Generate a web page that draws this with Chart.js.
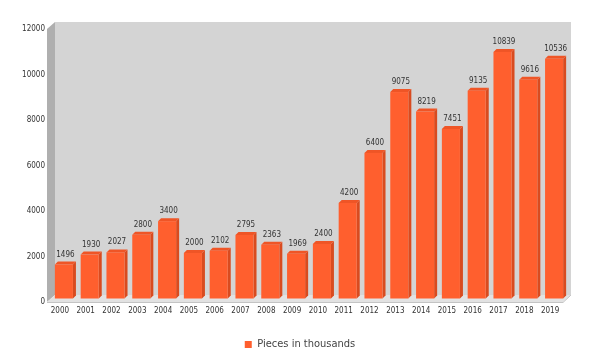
<!DOCTYPE html>
<html>
<head>
<meta charset="utf-8">
<script src="https://cdn.jsdelivr.net/npm/chart.js@4"></script>
<style>
html,body{margin:0;padding:0;background:#fff;}
#wrap{width:600px;height:358px;}
</style>
</head>
<body>
<div id="wrap"><canvas id="c" width="600" height="358"></canvas></div>
<script>
const categories = ['2000','2001','2002','2003','2004','2005','2006','2007','2008','2009','2010','2011','2012','2013','2014','2015','2016','2017','2018','2019'];
const pieces = [1496,1930,2027,2800,3400,2000,2102,2795,2363,1969,2400,4200,6400,9075,8219,7451,9135,10839,9616,10536];
const seriesName = 'Pieces in thousands';
const yMax = 12000;
const yStep = 2000;

const DX = 8, DY = -7;      // wall depth
const BX = 4, BY = -3.5;    // bar placement in depth
const SX = 3, SY = -3;      // bar depth

const threeD = {
  id: 'threeD',
  afterLayout(chart) {
    const lg = chart.legend;
    if (lg) {
      lg.left = 0; lg.right = chart.width; lg.width = chart.width;
      lg.top += 2; lg.bottom += 2;
    }
  },
  beforeDraw(chart) {
    const ctx = chart.ctx, a = chart.chartArea;
    ctx.save();
    ctx.fillStyle = '#d4d4d4';
    ctx.fillRect(a.left + DX, a.top + DY, a.right - a.left, a.bottom - a.top);
    ctx.fillStyle = '#afafaf';
    ctx.beginPath();
    ctx.moveTo(a.left, a.top);
    ctx.lineTo(a.left + DX, a.top + DY);
    ctx.lineTo(a.left + DX, a.bottom + DY);
    ctx.lineTo(a.left, a.bottom);
    ctx.closePath();
    ctx.fill();
    ctx.fillStyle = '#e2e2e2';
    ctx.beginPath();
    ctx.moveTo(a.left, a.bottom);
    ctx.lineTo(a.right, a.bottom);
    ctx.lineTo(a.right + DX, a.bottom + DY);
    ctx.lineTo(a.left + DX, a.bottom + DY);
    ctx.closePath();
    ctx.fill();
    ctx.strokeStyle = '#c4c4c4';
    ctx.lineWidth = 1;
    ctx.beginPath();
    ctx.moveTo(a.left, a.bottom + 0.5);
    ctx.lineTo(a.right, a.bottom + 0.5);
    ctx.lineTo(a.right + DX, a.bottom + DY);
    ctx.stroke();
    ctx.restore();
  },
  beforeDatasetDraw() { return false; },
  afterDatasetsDraw(chart) {
    const ctx = chart.ctx;
    const meta = chart.getDatasetMeta(0);
    const data = chart.data.datasets[0].data;
    ctx.save();
    meta.data.forEach((el, i) => {
      const p = el.getProps(['x', 'y', 'base', 'width'], true);
      const x0 = p.x - p.width / 2 + BX, x1 = p.x + p.width / 2 + BX;
      const yt = p.y + BY, yb = p.base + BY;
      ctx.fillStyle = '#d94b1f';
      ctx.beginPath();
      ctx.moveTo(x1, yt); ctx.lineTo(x1 + SX, yt + SY);
      ctx.lineTo(x1 + SX, yb + SY); ctx.lineTo(x1, yb);
      ctx.closePath(); ctx.fill();
      ctx.fillStyle = '#ef5526';
      ctx.beginPath();
      ctx.moveTo(x0, yt); ctx.lineTo(x0 + SX, yt + SY);
      ctx.lineTo(x1 + SX, yt + SY); ctx.lineTo(x1, yt);
      ctx.closePath(); ctx.fill();
      ctx.fillStyle = '#ff5f2e';
      ctx.fillRect(x0, yt, x1 - x0, yb - yt);
      ctx.fillStyle = '#333';
      ctx.font = '8px "DejaVu Sans Condensed"';
      ctx.textAlign = 'center';
      ctx.textBaseline = 'bottom';
      ctx.fillText(String(data[i]), (x0 + x1 + SX) / 2, yt + SY - 3);
    });
    ctx.restore();
  }
};

new Chart(document.getElementById('c'), {
  type: 'bar',
  data: {
    labels: categories,
    datasets: [{
      label: seriesName,
      data: pieces,
      backgroundColor: '#ff5f2e',
      borderWidth: 0,
      barPercentage: 0.7,
      categoryPercentage: 1.0
    }]
  },
  options: {
    responsive: false,
    animation: false,
    devicePixelRatio: 1,
    layout: { padding: { top: 29, right: 37, left: 0, bottom: 0 } },
    plugins: {
      tooltip: { enabled: false },
      legend: {
        position: 'bottom',
        labels: {
          boxWidth: 7, boxHeight: 7, padding: 2,
          color: '#444',
          font: { family: '"DejaVu Sans Condensed"', size: 11 }
        }
      }
    },
    scales: {
      x: {
        grid: { display: false, drawTicks: false },
        border: { display: false },
        ticks: { color: '#333', padding: 4, maxRotation: 0, autoSkip: false,
                 font: { family: '"DejaVu Sans Condensed"', size: 8 } },
        afterFit(s) { s.height = 33; }
      },
      y: {
        min: 0, max: yMax,
        grid: { display: false, drawTicks: false },
        border: { display: false },
        ticks: { stepSize: yStep, color: '#333', padding: 2,
                 callback: v => String(v),
                 font: { family: '"DejaVu Sans Condensed"', size: 8 } },
        afterFit(s) { s.width = 47; }
      }
    }
  },
  plugins: [threeD]
});
</script>
</body>
</html>
